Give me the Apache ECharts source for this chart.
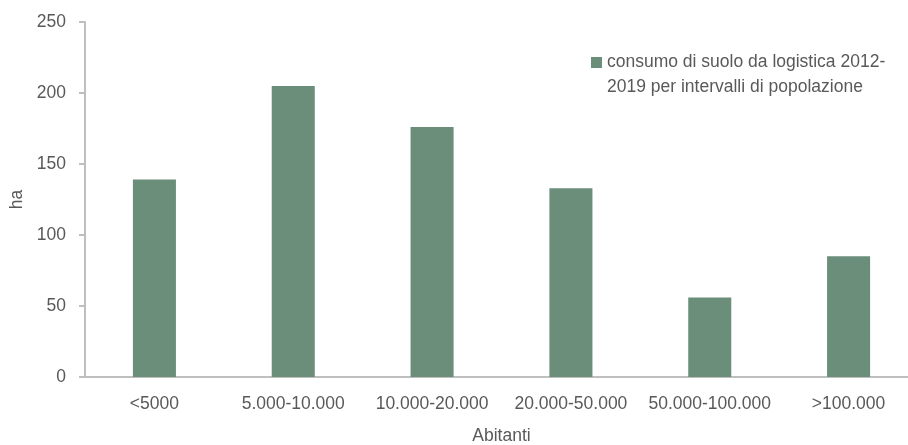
<!DOCTYPE html>
<html>
<head>
<meta charset="utf-8">
<script src="https://cdn.jsdelivr.net/npm/echarts@6/dist/echarts.min.js"></script>
<style>
html,body{margin:0;padding:0;background:#fff;}
#chart{width:908px;height:445px;}
</style>
</head>
<body>
<div id="chart"></div>
<script>
var categories = ['<5000', '5.000-10.000', '10.000-20.000', '20.000-50.000', '50.000-100.000', '>100.000'];
var values = [139, 205, 176, 133, 56, 85];
var seriesName = 'consumo di suolo da logistica 2012-\n2019 per intervalli di popolazione';
var yTicks = [0, 50, 100, 150, 200, 250];

var chart = echarts.init(document.getElementById('chart'), null, {renderer: 'canvas'});
var txt = '#595959';
var fontFam = '"Liberation Sans", Arial, sans-serif';
var fs = 17.5;
chart.setOption({
  animation: false,
  backgroundColor: '#ffffff',
  textStyle: {fontFamily: fontFam, color: txt},
  grid: {left: 85, right: -10, top: 22, bottom: 68, containLabel: false, outerBoundsMode: 'none'},
  legend: {
    show: true,
    left: 591,
    top: 25,
    padding: 0,
    itemWidth: 11,
    itemHeight: 11,
    icon: 'rect',
    data: [seriesName],
    formatter: function (name) { return '\n' + name; },
    textStyle: {fontFamily: fontFam, fontSize: fs, color: txt, lineHeight: 25}
  },
  xAxis: {
    type: 'category',
    data: categories,
    name: 'Abitanti',
    nameLocation: 'middle',
    nameGap: 50,
    nameTextStyle: {fontFamily: fontFam, fontSize: fs, color: txt, verticalAlign: 'top'},
    axisLine: {show: true, lineStyle: {color: '#bfbfbf', width: 2}},
    axisTick: {show: false},
    axisLabel: {fontFamily: fontFam, fontSize: fs, color: txt, margin: 18, interval: 0}
  },
  yAxis: {
    type: 'value',
    min: 0,
    max: 250,
    interval: 50,
    name: 'ha',
    nameLocation: 'middle',
    nameGap: 58,
    nameTextStyle: {fontFamily: fontFam, fontSize: fs, color: txt},
    axisLine: {show: true, lineStyle: {color: '#bfbfbf', width: 2}},
    axisTick: {show: true, length: 6, lineStyle: {color: '#bfbfbf', width: 2}},
    axisLabel: {fontFamily: fontFam, fontSize: fs, color: txt, margin: 19,
      formatter: function (v) { return yTicks.indexOf(v) >= 0 ? String(v) : ''; }},
    splitLine: {show: false}
  },
  series: [{
    name: seriesName,
    type: 'bar',
    data: values,
    barWidth: '31%',
    itemStyle: {color: '#6A8E7A'}
  }]
});
</script>
</body>
</html>
